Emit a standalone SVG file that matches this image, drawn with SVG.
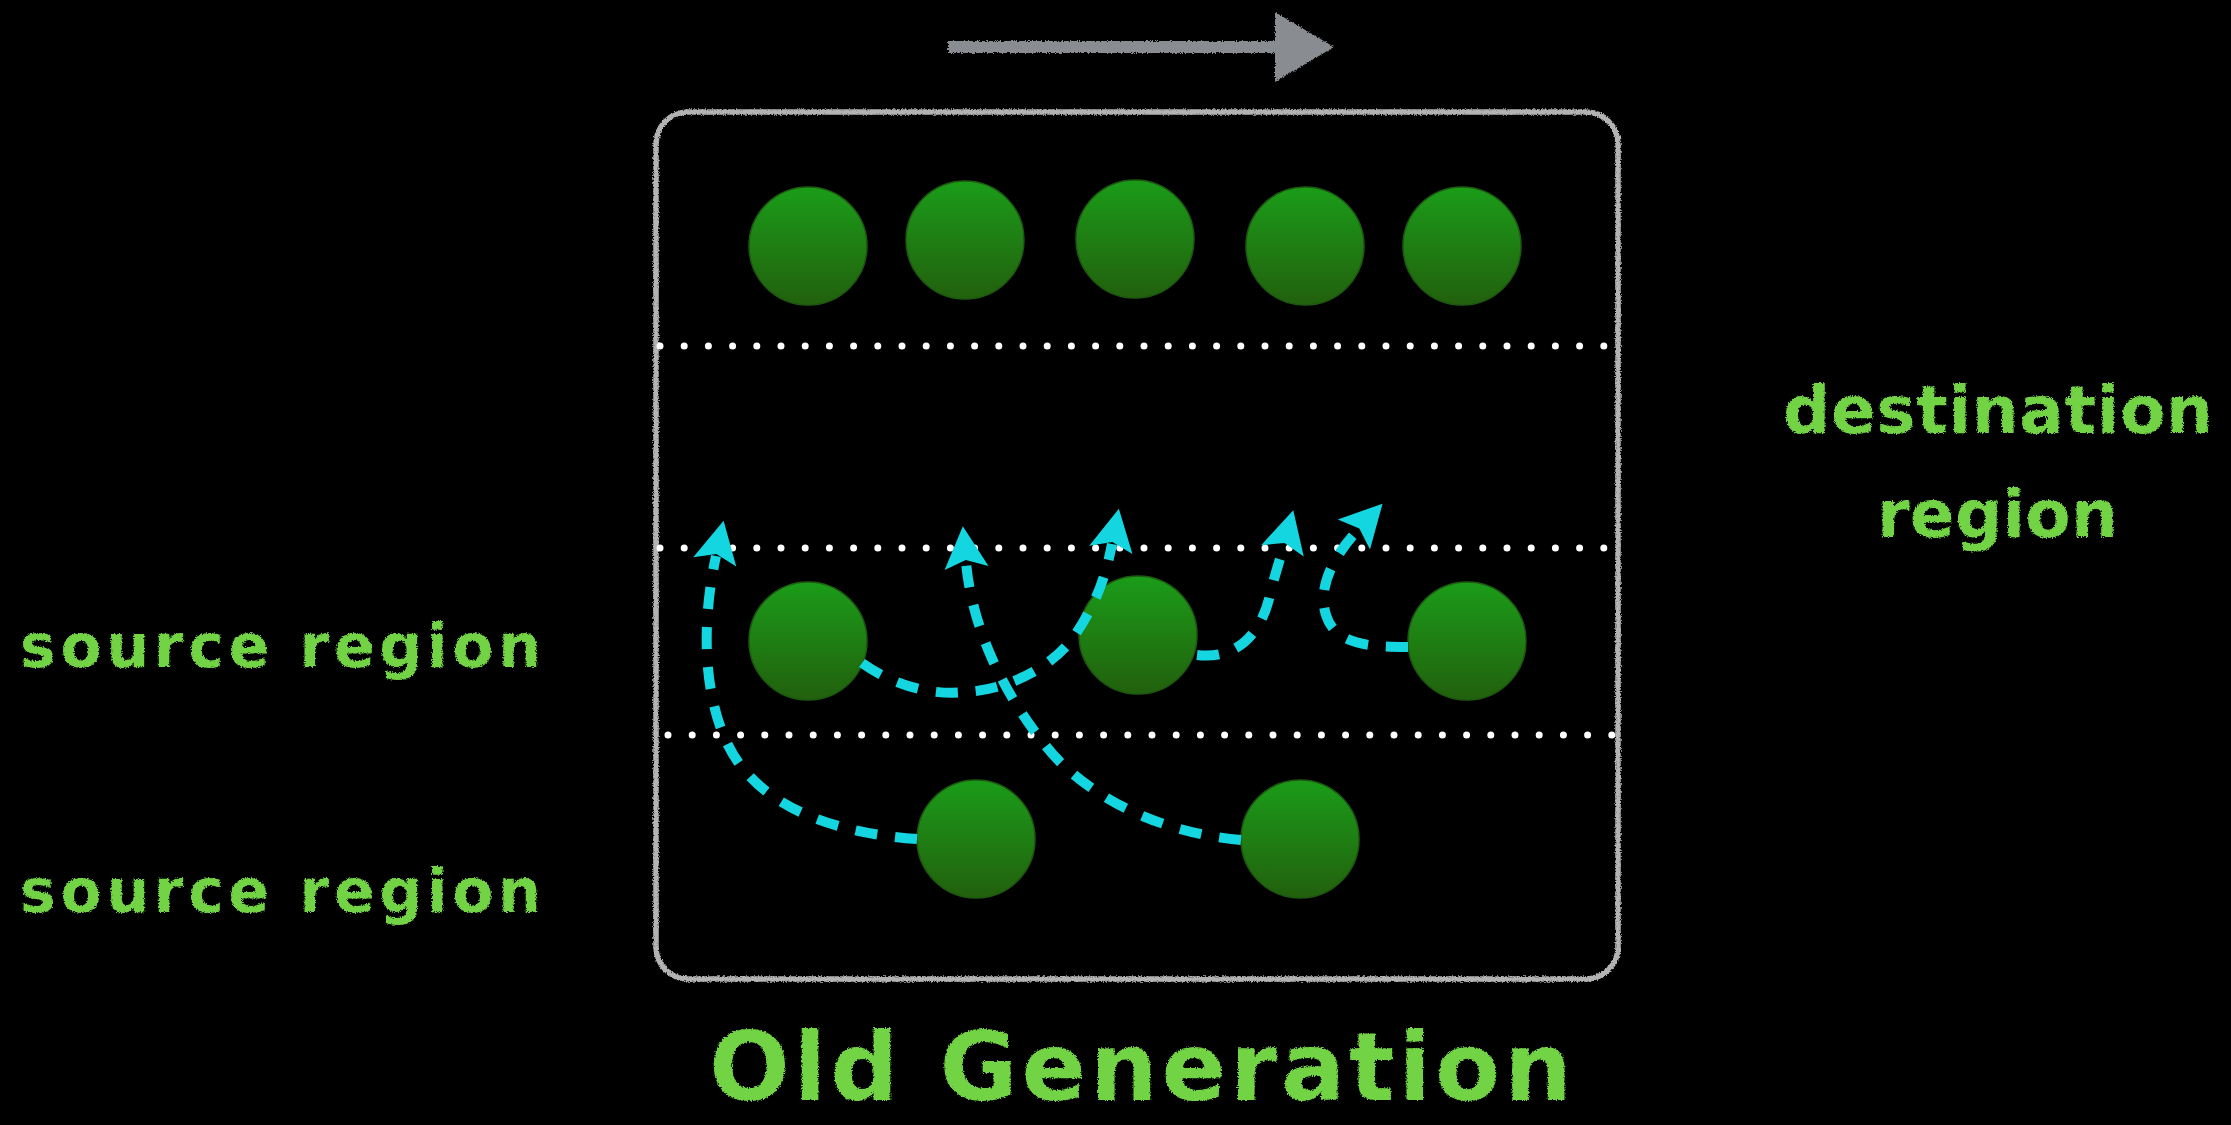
<svg xmlns="http://www.w3.org/2000/svg" width="2231" height="1125" viewBox="0 0 2231 1125">
  <defs>
    <style>
      .chalk-text { font-family: "DejaVu Sans", "Liberation Sans", sans-serif; font-weight: bold; fill: #72d445; filter: url(#chalk); }
      .obj { stroke: #1d5a10; stroke-width: 1.5; fill: url(#objFill); }
      .dots { stroke: #ffffff; stroke-width: 7; stroke-linecap: round; stroke-dasharray: 0 24.2; fill: none; }
      .move { stroke: #14d6e0; stroke-width: 10; stroke-dasharray: 22 18; fill: none; marker-end: url(#head); }
    </style>
    <linearGradient id="objFill" x1="0" y1="0" x2="0" y2="1">
      <stop offset="0" stop-color="#1b9c19"/>
      <stop offset="1" stop-color="#22600d"/>
    </linearGradient>
    <filter id="chalk" x="-5%" y="-5%" width="110%" height="110%">
      <feTurbulence type="fractalNoise" baseFrequency="0.8" numOctaves="2" seed="3" result="noise"/>
      <feDisplacementMap in="SourceGraphic" in2="noise" scale="4" xChannelSelector="R" yChannelSelector="G"/>
    </filter>
    <marker id="head" markerUnits="userSpaceOnUse" viewBox="-2 -24 48 48" markerWidth="48" markerHeight="48" refX="6" refY="0" orient="auto">
      <path d="M0,-22 L42,0 L0,22 L8,0 Z" fill="#14d6e0"/>
    </marker>
  </defs>

  <rect width="2231" height="1125" fill="#000000"/>

  <!-- direction arrow -->
  <g id="direction" filter="url(#chalk)">
    <line x1="948" y1="47" x2="1280" y2="47" stroke="#898c91" stroke-width="12"/>
    <polygon points="1275,12 1334,47 1275,82" fill="#898c91"/>
  </g>

  <!-- heap container -->
  <g id="heap">
    <rect x="656" y="112" width="962" height="867" rx="32" fill="none" stroke="#b3b3b3" stroke-width="5.5" filter="url(#chalk)"/>
  </g>

  <!-- region separators -->
  <g id="separators">
    <line class="dots" x1="660" y1="346" x2="1612" y2="346"/>
    <line class="dots" x1="660" y1="548" x2="1612" y2="548"/>
    <line class="dots" x1="668" y1="735" x2="1612" y2="735"/>
  </g>

  <!-- objects -->
  <g id="obj-top-1"><circle class="obj" cx="808" cy="246" r="59"/></g>
  <g id="obj-top-2"><circle class="obj" cx="965" cy="240" r="59"/></g>
  <g id="obj-top-3"><circle class="obj" cx="1135" cy="239" r="59"/></g>
  <g id="obj-top-4"><circle class="obj" cx="1305" cy="246" r="59"/></g>
  <g id="obj-top-5"><circle class="obj" cx="1462" cy="246" r="59"/></g>

  <g id="obj-mid-1"><circle class="obj" cx="808" cy="641" r="59"/></g>
  <g id="obj-mid-2"><circle class="obj" cx="1138" cy="635" r="59"/></g>
  <g id="obj-mid-3"><circle class="obj" cx="1467" cy="641" r="59"/></g>

  <g id="obj-low-1"><circle class="obj" cx="976" cy="839" r="59"/></g>
  <g id="obj-low-2"><circle class="obj" cx="1300" cy="839" r="59"/></g>

  <!-- evacuation moves -->
  <g id="connectors">
    <path class="move" d="M917,839 C820,832 755,800 728,745 C705,698 700,630 716,556"/>
    <path class="move" d="M1241,840 C1150,832 1080,790 1045,745 C1005,695 972,630 966,562"/>
    <path class="move" d="M862,663 C900,690 940,695 965,692 C1010,690 1055,665 1075,635 C1095,605 1105,580 1112,544"/>
    <path class="move" d="M1197,655 C1240,660 1262,630 1270,595 C1276,570 1280,560 1284,545"/>
    <path class="move" d="M1408,647 C1370,647 1335,645 1326,615 C1318,590 1330,560 1358,530"/>
  </g>

  <!-- labels -->
  <g id="labels">
    <text class="chalk-text" x="20" y="667" font-size="60" textLength="521" lengthAdjust="spacing">source region</text>
    <text class="chalk-text" x="20" y="912" font-size="60" textLength="521" lengthAdjust="spacing">source region</text>
    <text class="chalk-text" x="1783" y="433" font-size="66" textLength="430" lengthAdjust="spacing">destination</text>
    <text class="chalk-text" x="1877" y="537" font-size="66" textLength="241" lengthAdjust="spacing">region</text>
    <text class="chalk-text" x="709" y="1100" font-size="95" textLength="863" lengthAdjust="spacing">Old Generation</text>
  </g>
</svg>
